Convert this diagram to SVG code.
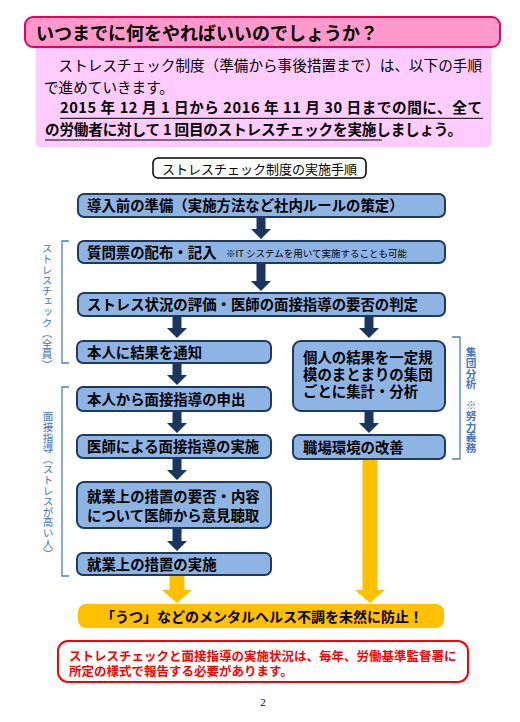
<svg xmlns="http://www.w3.org/2000/svg" width="520" height="722" viewBox="0 0 520 722">
<style>
text{font-family:"Noto Sans CJK JP","Noto Sans",sans-serif;}
.box{fill:#8eb4e3;stroke:#1f3a60;stroke-width:2;}
.bt{font-size:14.4px;font-weight:bold;fill:#000;}
.arr{fill:#1b365d;}
.yarr{fill:#ffc000;}
.brk{fill:none;stroke:#4a7ebb;stroke-width:1.3;}
.vt{font-size:10.6px;fill:#4472c4;writing-mode:vertical-rl;}
.intro{font-size:14.6px;fill:#000;}
.introb{font-size:14.6px;font-weight:bold;fill:#000;}
.red{font-size:12.5px;font-weight:bold;fill:#ff0000;}
</style>
<rect width="520" height="722" fill="#fff"/>

<g id="header">
<rect x="36" y="40" width="455" height="107" rx="4" fill="#ffccff"/>
<rect x="25" y="17" width="475" height="30" rx="8" fill="#ff99cc" stroke="#e8005a" stroke-width="2"/>
<text x="36" y="39.5" font-size="18" font-weight="bold" fill="#000">いつまでに何をやればいいのでしょうか？</text>
<text class="intro" x="44" y="70.5" textLength="438" lengthAdjust="spacing">　ストレスチェック制度（準備から事後措置まで）は、以下の手順</text>
<text class="intro" x="44" y="92.5">で進めていきます。</text>
<text class="introb" x="60" y="112.5" textLength="422" lengthAdjust="spacing">2015 年 12 月 1 日から 2016 年 11 月 30 日までの間に、全て</text>
<text class="introb" x="45" y="134.5" textLength="417" lengthAdjust="spacing">の労働者に対して 1 回目のストレスチェックを実施しましょう。</text>
<line x1="60" y1="118.3" x2="483" y2="118.3" stroke="#000" stroke-width="1"/>
<line x1="45" y1="140" x2="382" y2="140" stroke="#000" stroke-width="1"/>
</g>

<g id="title">
<rect x="153" y="158" width="213" height="20" rx="5" fill="#fff" stroke="#000" stroke-width="1.5"/>
<text x="259.5" y="173.5" font-size="13" text-anchor="middle" fill="#000">ストレスチェック制度の実施手順</text>
</g>

<g id="connectors">
<path class="arr" d="M256.5,217 H265.5 V229 H271 L261,239 L251,229 H256.5 Z"/>
<path class="arr" d="M256.5,263 H265.5 V281 H271 L261,291 L251,281 H256.5 Z"/>
<path class="arr" d="M172.5,316 H181.5 V328 H187 L177,338 L167,328 H172.5 Z"/>
<path class="arr" d="M364.5,316 H373.5 V328 H379 L369,338 L359,328 H364.5 Z"/>
<path class="arr" d="M172.5,363 H181.5 V375 H187 L177,385 L167,375 H172.5 Z"/>
<path class="arr" d="M172.5,411 H181.5 V423 H187 L177,433 L167,423 H172.5 Z"/>
<path class="arr" d="M172.5,458 H181.5 V470 H187 L177,480 L167,470 H172.5 Z"/>
<path class="arr" d="M172.5,528 H181.5 V541 H187 L177,551 L167,541 H172.5 Z"/>
<path class="arr" d="M364.5,411 H373.5 V423 H379 L369,433 L359,423 H364.5 Z"/>
<path class="yarr" d="M169.5,575 H184.5 V590 H192 L177,603 L162,590 H169.5 Z"/>
<path class="yarr" d="M362.5,459 H377.5 V590 H385 L370,603 L355,590 H362.5 Z"/>
</g>

<g id="step1">
<rect class="box" x="78" y="194" width="367" height="23" rx="6"/>
<text class="bt" x="87" y="211">導入前の準備（実施方法など社内ルールの策定）</text>
</g>
<g id="step2">
<rect class="box" x="78" y="241" width="367" height="22" rx="6"/>
<text class="bt" x="87" y="257.5">質問票の配布・記入</text>
<text x="226" y="257" font-size="9.5" fill="#000">※IT システムを用いて実施することも可能</text>
</g>
<g id="step3">
<rect class="box" x="78" y="293" width="367" height="23" rx="6"/>
<text class="bt" x="87" y="310">ストレス状況の評価・医師の面接指導の要否の判定</text>
</g>
<g id="notify">
<rect class="box" x="77" y="341" width="194" height="22" rx="6"/>
<text class="bt" x="87" y="357.5">本人に結果を通知</text>
</g>
<g id="request">
<rect class="box" x="77" y="387" width="194" height="24" rx="6"/>
<text class="bt" x="87" y="404.5">本人から面接指導の申出</text>
</g>
<g id="interview">
<rect class="box" x="77" y="435" width="194" height="23" rx="6"/>
<text class="bt" x="87" y="452">医師による面接指導の実施</text>
</g>
<g id="opinion">
<rect class="box" x="77" y="482" width="194" height="46" rx="7"/>
<text class="bt" x="87" y="501.5">就業上の措置の要否・内容<tspan x="87" dy="19">について医師から意見聴取</tspan></text>
</g>
<g id="measures">
<rect class="box" x="77" y="553" width="194" height="22" rx="6"/>
<text class="bt" x="87" y="569.5">就業上の措置の実施</text>
</g>
<g id="group-analysis">
<rect class="box" x="293" y="341" width="152" height="70" rx="8"/>
<text class="bt" x="303" y="362.5">個人の結果を一定規<tspan x="303" dy="17">模のまとまりの集団</tspan><tspan x="303" dy="17">ごとに集計・分析</tspan></text>
</g>
<g id="workplace">
<rect class="box" x="293" y="435" width="152" height="24" rx="6"/>
<text class="bt" x="303" y="452.5">職場環境の改善</text>
</g>

<g id="prevent">
<rect x="78" y="604" width="366" height="24" rx="8" fill="#ffc000"/>
<text x="262" y="622" font-size="14" font-weight="bold" text-anchor="middle" fill="#000">「うつ」などのメンタルヘルス不調を未然に防止！</text>
</g>

<g id="report">
<rect x="58" y="641" width="410" height="41" rx="10" fill="#fff" stroke="#ff0000" stroke-width="2"/>
<text class="red" x="69" y="661">ストレスチェックと面接指導の実施状況は、毎年、労働基準監督署に<tspan x="69" dy="14.5">所定の様式で報告する必要があります。</tspan></text>
</g>

<g id="bracket-stress">
<path class="brk" d="M69,241 H62 V363 H69"/>
<text class="vt" x="47" y="243">ストレスチェック（全員）</text>
</g>
<g id="bracket-interview">
<path class="brk" d="M69,387 H62 V576 H69"/>
<text class="vt" x="48" y="411">面接指導（ストレスが高い人）</text>
</g>
<g id="bracket-group">
<path class="brk" d="M452,337 H460 V459 H452"/>
<text class="vt" x="471" y="347" font-weight="bold" fill="#4a66ac">集団分析　※努力義務</text>
</g>

<text x="263" y="706" font-size="11" text-anchor="middle" fill="#000" style="font-family:'Liberation Serif',serif">2</text>
</svg>
